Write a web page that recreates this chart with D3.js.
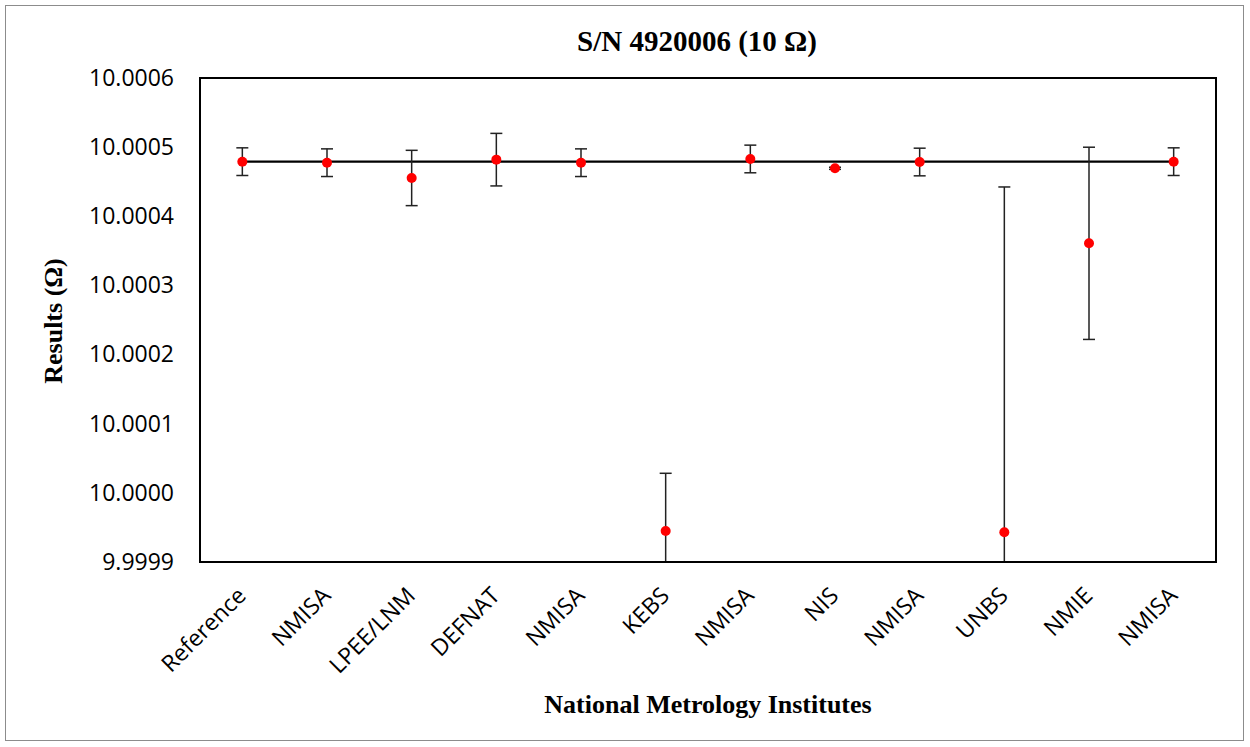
<!DOCTYPE html>
<html><head><meta charset="utf-8">
<script src="https://cdn.jsdelivr.net/npm/d3@7"></script>
<style>body{margin:0;background:#fff}</style>
</head><body>
<svg id="c" width="1250" height="747"></svg>
<script>
const categories = ["Reference","NMISA","LPEE/LNM","DEFNAT","NMISA","KEBS","NMISA","NIS","NMISA","UNBS","NMIE","NMISA"];
const results = [10.000479,10.0004775,10.0004554,10.0004819,10.0004775,9.9999448,10.0004829,10.0004694,10.0004785,9.999943,10.0003609,10.000479];
const uncertainties = [0.000020,0.000020,0.000040,0.000038,0.000020,0.0000835,0.000020,0.0000015,0.000020,0.0004994,0.0001390,0.000020];
const referenceValue = [10.000479,10.000479,10.000479,10.000479,10.000479,10.000479,10.000479,10.000479,10.000479,10.000479,10.000479,10.000479];
const yTicks = [9.9999,10.0000,10.0001,10.0002,10.0003,10.0004,10.0005,10.0006];

const svg = d3.select("#c");
const m = {l:200, r:1216, t:78, b:562};
svg.append("rect").attr("x",5.5).attr("y",5.5).attr("width",1238).attr("height",735)
  .attr("fill","#fff").attr("stroke","#8c8c8c").attr("stroke-width",1);

const x = d3.scaleBand().domain(d3.range(categories.length)).range([m.l,m.r]);
const y = d3.scaleLinear().domain([9.9999,10.0006]).range([m.b,m.t]);
const cx = i => x(i)+x.bandwidth()/2;

svg.append("defs").append("clipPath").attr("id","clip")
  .append("rect").attr("x",m.l).attr("y",m.t).attr("width",m.r-m.l).attr("height",m.b-m.t);

const yAxis = d3.axisLeft(y).tickValues(yTicks).tickFormat(d3.format(".4f")).tickSize(0).tickPadding(26);
const gy = svg.append("g").attr("transform",`translate(${m.l},0)`).call(yAxis);
gy.select(".domain").remove();
gy.selectAll("text").attr("font-family","'Open Sans', sans-serif").attr("font-size",23).attr("fill","#000");

const xAxis = d3.axisBottom(x).tickFormat(i=>categories[i]).tickSize(0).tickPadding(0);
const gx = svg.append("g").attr("transform",`translate(0,${m.b})`).call(xAxis);
gx.select(".domain").remove();
gx.selectAll("text").attr("font-family","'Open Sans', sans-serif").attr("font-size",23).attr("fill","#000")
  .attr("text-anchor","end").attr("dy",0).attr("dx",0)
  .attr("transform","translate(5,35) rotate(-45)");

const plot = svg.append("g").attr("clip-path","url(#clip)");
// reference line
plot.append("path").datum(referenceValue)
  .attr("d", d3.line().x((d,i)=>cx(i)).y(d=>y(d)))
  .attr("fill","none").attr("stroke","#000").attr("stroke-width",2.2);

// error bars
const eb = plot.selectAll("g.eb").data(results).join("g");
eb.append("line").attr("x1",(d,i)=>cx(i)).attr("x2",(d,i)=>cx(i))
  .attr("y1",(d,i)=>y(d+uncertainties[i])).attr("y2",(d,i)=>y(d-uncertainties[i]))
  .attr("stroke","#222").attr("stroke-width",1.5);
eb.append("line").attr("x1",(d,i)=>cx(i)-6).attr("x2",(d,i)=>cx(i)+6)
  .attr("y1",(d,i)=>y(d+uncertainties[i])).attr("y2",(d,i)=>y(d+uncertainties[i]))
  .attr("stroke","#222").attr("stroke-width",1.5);
eb.append("line").attr("x1",(d,i)=>cx(i)-6).attr("x2",(d,i)=>cx(i)+6)
  .attr("y1",(d,i)=>y(d-uncertainties[i])).attr("y2",(d,i)=>y(d-uncertainties[i]))
  .attr("stroke","#222").attr("stroke-width",1.5);
plot.selectAll("circle").data(results).join("circle")
  .attr("cx",(d,i)=>cx(i)).attr("cy",d=>y(d)).attr("r",5).attr("fill","#ff0000");

svg.append("rect").attr("x",m.l).attr("y",m.t).attr("width",m.r-m.l).attr("height",m.b-m.t)
  .attr("fill","none").attr("stroke","#000").attr("stroke-width",2);

svg.append("text").attr("x",697).attr("y",51).attr("text-anchor","middle")
  .attr("font-family","'Liberation Serif', serif").attr("font-weight","bold").attr("font-size",29)
  .text("S/N 4920006 (10 Ω)");
svg.append("text").attr("transform","translate(62,321) rotate(-90)").attr("text-anchor","middle")
  .attr("font-family","'Liberation Serif', serif").attr("font-weight","bold").attr("font-size",26)
  .text("Results (Ω)");
svg.append("text").attr("x",708).attr("y",713).attr("text-anchor","middle")
  .attr("font-family","'Liberation Serif', serif").attr("font-weight","bold").attr("font-size",26)
  .text("National Metrology Institutes");
</script>
</body></html>
